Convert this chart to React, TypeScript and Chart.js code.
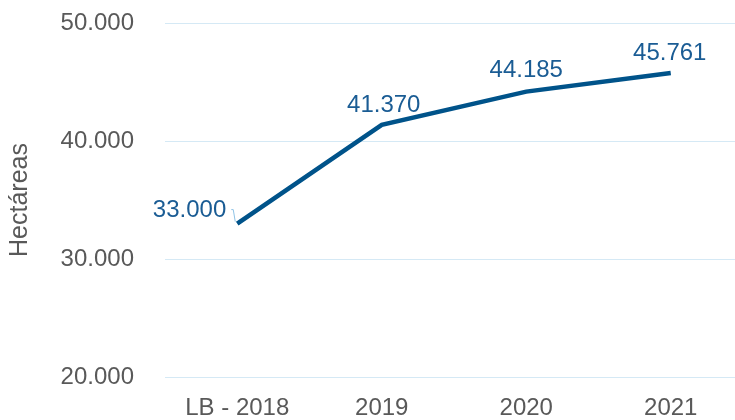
import React, { useEffect, useRef } from "react";
import { Chart, registerables } from "chart.js";

Chart.register(...registerables);

const categories = ["LB - 2018", "2019", "2020", "2021"];
const hectareas = [33000, 41370, 44185, 45761];
const yTicks = [20000, 30000, 40000, 50000];
const axisTitle = "Hectáreas";

const FONT = "'Liberation Sans', Arial, Helvetica, sans-serif";
const LINE_COLOR = "#00538a";
const LABEL_COLOR = "#1a5c94";

const fmt = (v: number) => v.toLocaleString("de-DE");

// label offsets relative to each point (dx, dy)
const labelOffsets = [
  [-11, -13],
  [2, -19],
  [0, -21],
  [-1, -19.5],
];

const labelPlugin = {
  id: "pointLabels",
  afterDatasetsDraw(chart: any) {
    const { ctx } = chart;
    const meta = chart.getDatasetMeta(0);
    ctx.save();
    ctx.font = `24px ${FONT}`;
    ctx.fillStyle = LABEL_COLOR;
    ctx.textBaseline = "middle";
    meta.data.forEach((pt: any, i: number) => {
      const text = fmt(hectareas[i]);
      const [dx, dy] = labelOffsets[i];
      if (i === 0) {
        ctx.textAlign = "right";
        ctx.fillText(text, pt.x + dx, pt.y + dy);
        ctx.strokeStyle = "#8fc3e6";
        ctx.lineWidth = 1;
        ctx.beginPath();
        ctx.moveTo(pt.x - 6, pt.y - 14);
        ctx.lineTo(pt.x - 4, pt.y - 14);
        ctx.lineTo(pt.x - 2, pt.y - 2);
        ctx.stroke();
      } else {
        ctx.textAlign = "center";
        ctx.fillText(text, pt.x + dx, pt.y + dy);
      }
    });
    ctx.restore();
  },
};

export default function App() {
  const ref = useRef<HTMLCanvasElement | null>(null);
  useEffect(() => {
    document.body.style.margin = "0";
    document.body.style.overflow = "hidden";
    const chart = new Chart(ref.current as HTMLCanvasElement, {
      type: "line",
      data: {
        labels: categories,
        datasets: [
          {
            data: hectareas,
            borderColor: LINE_COLOR,
            borderWidth: 4.5,
            pointRadius: 0,
            tension: 0,
            fill: false,
          },
        ],
      },
      options: {
        animation: false,
        responsive: false,
        maintainAspectRatio: false,
        layout: { padding: { top: 23, right: 2, left: 0, bottom: 0 } },
        plugins: { legend: { display: false }, tooltip: { enabled: false } },
        scales: {
          x: {
            offset: true,
            grid: { display: false, drawTicks: false },
            border: { display: false },
            ticks: { font: { family: FONT, size: 24 }, color: "#595959", padding: 17, maxRotation: 0 },
            afterFit(scale: any) {
              scale.height = 43;
            },
          },
          y: {
            min: 20000,
            max: 50000,
            afterBuildTicks(scale: any) {
              scale.ticks = yTicks.map((v) => ({ value: v }));
            },
            grid: {
              color: "#d5e9f5",
              lineWidth: 1,
              drawTicks: true,
              tickLength: 31,
              tickColor: "rgba(0,0,0,0)",
            },
            border: { display: false },
            ticks: {
              font: { family: FONT, size: 24 },
              color: "#595959",
              padding: 0,
              callback: (v: any) => fmt(Number(v)),
            },
            title: {
              display: true,
              text: axisTitle,
              font: { family: FONT, size: 25 },
              color: "#595959",
              padding: { top: 5, bottom: 0 },
            },
            afterFit(scale: any) {
              scale.width = 165;
            },
          },
        },
      },
      plugins: [labelPlugin],
    });
    return () => chart.destroy();
  }, []);
  return (
    <div style={{ width: 745, height: 420, position: "relative" }}>
      <canvas ref={ref} width={745} height={420} style={{ display: "block" }} />
    </div>
  );
}
